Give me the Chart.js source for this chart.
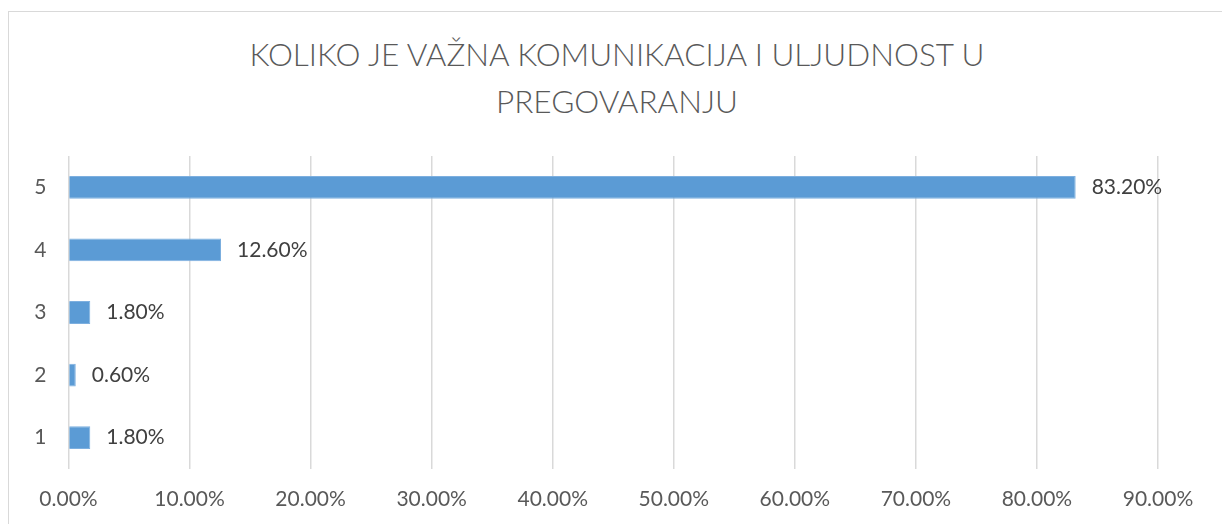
<!DOCTYPE html>
<html>
<head>
<meta charset="utf-8">
<script src="https://cdn.jsdelivr.net/npm/chart.js@4"></script>
<style>
  html, body { margin: 0; padding: 0; background: #fff; }
  #wrap { position: relative; width: 1222px; height: 524px; overflow: hidden; }
  #frame {
    position: absolute; left: 8px; top: 11px; width: 1240px; height: 540px;
    border: 1px solid #d9d9d9; box-sizing: border-box;
  }
  #title {
    position: absolute; left: 117px; top: 31px; width: 1000px;
    text-align: center; color: #595959;
    font-family: Lato, "Open Sans", sans-serif; font-weight: 300;
    font-size: 31.5px; line-height: 47px;
  }
  #chart { position: absolute; left: 0; top: 0; }
</style>
</head>
<body>
<div id="wrap">
  <div id="frame"></div>
  <div id="title"></div>
  <canvas id="chart" width="1222" height="524"></canvas>
</div>
<script>
  const TITLE_LINES = ["KOLIKO JE VAŽNA KOMUNIKACIJA I ULJUDNOST U", "PREGOVARANJU"];
  const categories = ["5", "4", "3", "2", "1"];
  const values = [83.2, 12.6, 1.8, 0.6, 1.8];
  const xTicks = [0, 10, 20, 30, 40, 50, 60, 70, 80, 90];

  const FONT = "Lato, 'Open Sans', sans-serif";
  const pct = (v) => Number(v).toFixed(2) + "%";

  const titleEl = document.getElementById("title");
  TITLE_LINES.forEach((line) => {
    const d = document.createElement("div");
    d.textContent = line;
    titleEl.appendChild(d);
  });

  // data labels just past the end of each bar
  const barLabels = {
    id: "barLabels",
    afterDatasetsDraw(chart) {
      const ctx = chart.ctx;
      const meta = chart.getDatasetMeta(0);
      ctx.save();
      ctx.font = "21px " + FONT;
      ctx.fillStyle = "#404040";
      ctx.textAlign = "left";
      ctx.textBaseline = "middle";
      meta.data.forEach((bar, i) => {
        ctx.fillText(pct(values[i]), bar.x + 16, bar.y);
      });
      ctx.restore();
    },
  };

  new Chart(document.getElementById("chart"), {
    type: "bar",
    data: {
      labels: categories,
      datasets: [
        {
          data: values,
          backgroundColor: "#5B9BD5",
          borderColor: "#7DAFDF",
          borderWidth: 1,
          categoryPercentage: 1,
          barPercentage: 0.365,
        },
      ],
    },
    options: {
      responsive: false,
      animation: false,
      indexAxis: "y",
      layout: { padding: { left: 0, right: 64, top: 156, bottom: 0 } },
      plugins: {
        legend: { display: false },
        tooltip: { enabled: false },
        title: { display: false },
      },
      scales: {
        x: {
          min: 0,
          max: 90,
          afterBuildTicks: (scale) => {
            scale.ticks = xTicks.map((v) => ({ value: v }));
          },
          afterFit: (scale) => {
            scale.height = 55;
          },
          grid: { color: "#d9d9d9", lineWidth: 1.5, drawTicks: false },
          border: { display: false },
          ticks: {
            color: "#595959",
            padding: 18,
            font: { family: FONT, size: 21 },
            callback: (v) => pct(v),
          },
        },
        y: {
          afterFit: (scale) => {
            scale.width = 68.5;
          },
          grid: { display: false, drawTicks: false },
          border: { display: false },
          ticks: {
            color: "#595959",
            padding: 22,
            font: { family: FONT, size: 21 },
          },
        },
      },
    },
    plugins: [barLabels],
  });
</script>
</body>
</html>
